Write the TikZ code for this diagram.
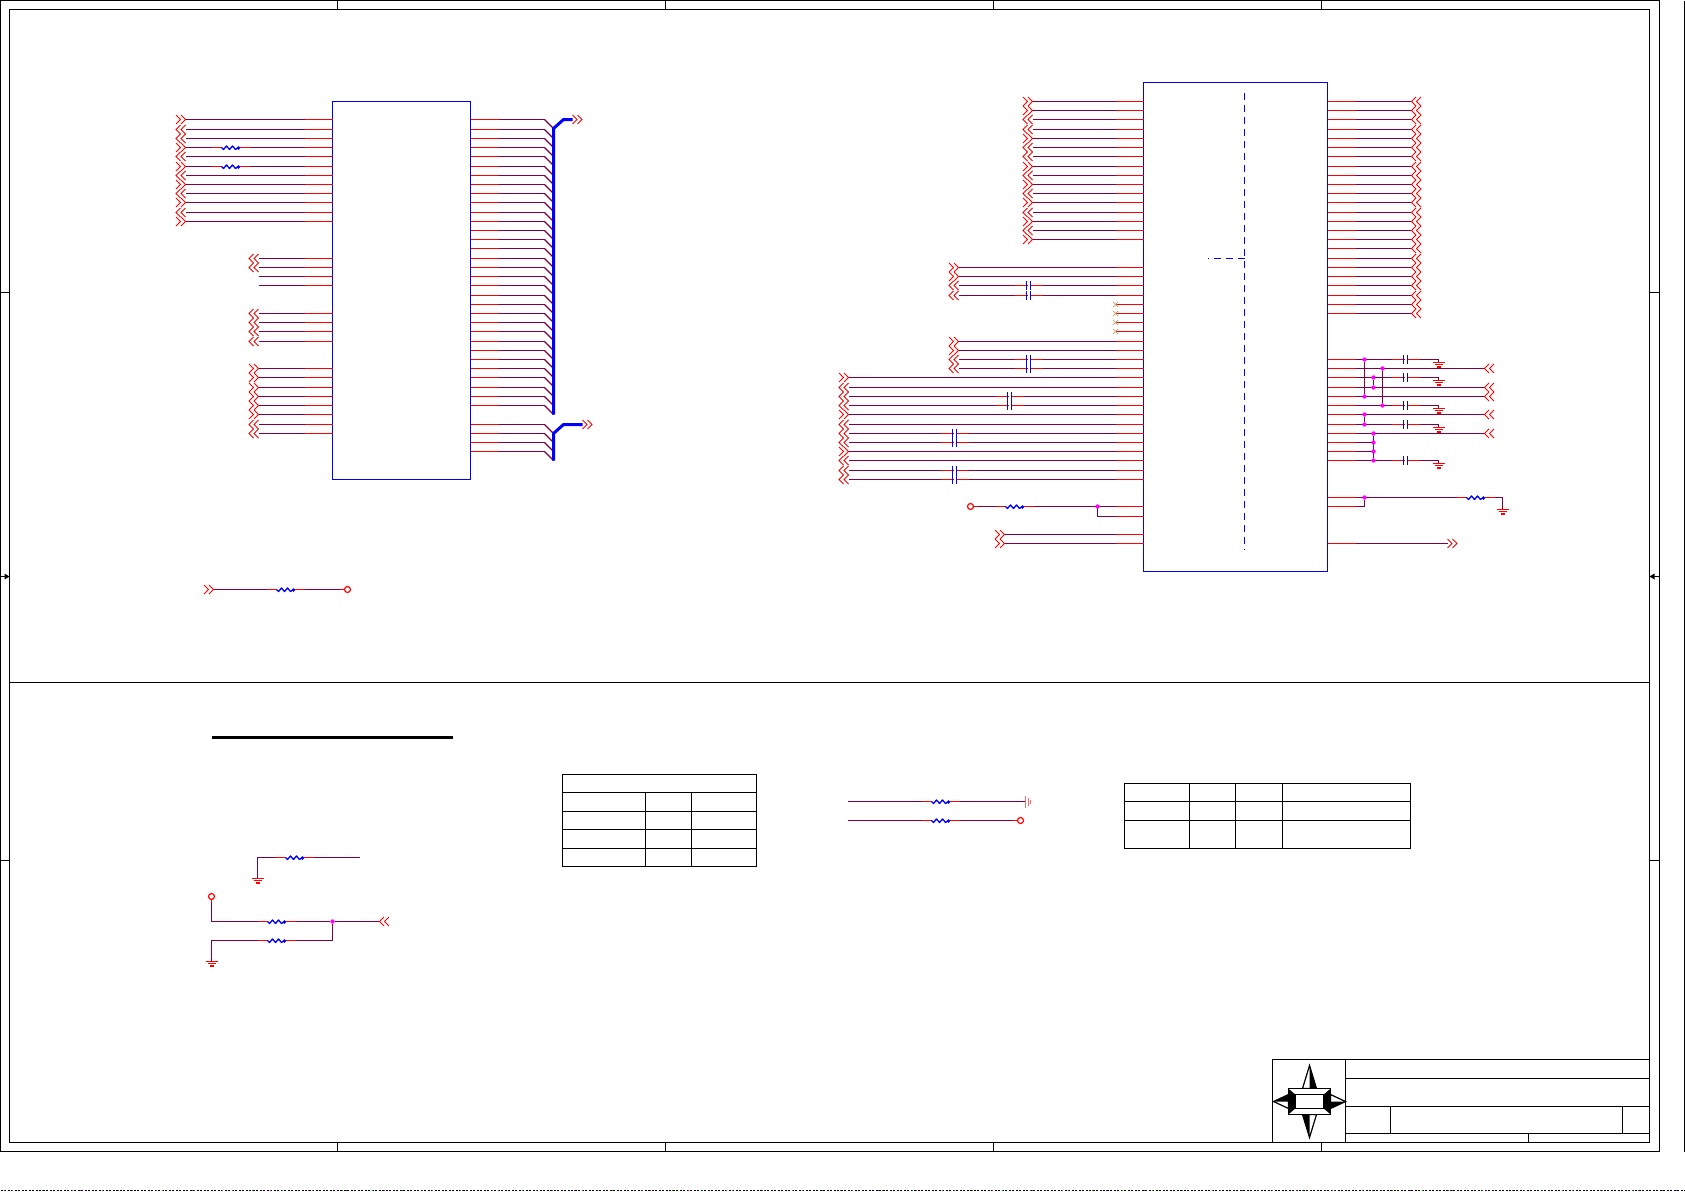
\documentclass[tikz,border=0pt]{standalone}
\usetikzlibrary{calc}
\definecolor{wirep}{HTML}{800040}
\definecolor{ncx}{HTML}{C8A070}
\definecolor{juncm}{HTML}{FF00FF}
\tikzset{
  pw/.style={draw=wirep,line width=1.2pt},
  rw/.style={draw=red,line width=1.2pt},
  chevron/.style={draw=red,line width=1pt,line join=miter},
  icbox/.style={draw=blue,line width=1.2pt,inner sep=0pt,outer sep=0pt,anchor=north west},
  dashline/.style={draw=blue,line width=1.2pt,dash pattern=on 7pt off 5pt},
  busline/.style={draw=blue,line width=3pt,line join=round},
  frameline/.style={draw=black,line width=1.2pt},
  junc/.style={circle,fill=juncm,inner sep=0pt,minimum size=4.4pt},
  pincircle/.style={circle,draw=red,line width=1.2pt,fill=white,inner sep=0pt,minimum size=6pt}
}
% chevron pairs: #1 left bound, #2 y
\newcommand{\chevr}[2]{\draw[chevron,shift={(#1,#2)}] (0,-4.5)--(4.5,0)--(0,4.5) (5,-4.5)--(9.5,0)--(5,4.5);}
\newcommand{\chevl}[2]{\draw[chevron,shift={(#1,#2)}] (4.5,-4.5)--(0,0)--(4.5,4.5) (9.5,-4.5)--(5,0)--(9.5,4.5);}
\newcommand{\chevn}[2]{}
% wire from free end at x to west side of an IC: {ic}{x}{y}{r|l|n}
\newcommand{\wle}[4]{%
  \coordinate (e#1-#3) at (#2,#3);
  \draw[pw] (e#1-#3) -- (#1.west |- e#1-#3);
  \draw[rw] (#1.west |- e#1-#3) -- ++(-28,0);
  \pgfmathsetmacro{\xl}{#2-9.5}
  \csname chev#4\endcsname{\xl}{#3}}
% wire from east side of an IC
\newcommand{\wre}[4]{%
  \coordinate (f#1-#3) at (#2,#3);
  \draw[pw] (#1.east |- f#1-#3) -- (f#1-#3);
  \draw[rw] (#1.east |- f#1-#3) -- ++(28,0);
  \csname chev#4\endcsname{#2}{#3}}
% resistor laid over a wire
\newcommand{\res}[2]{%
  \begin{scope}[shift={(#1,#2)}]
  \draw[white,line width=2pt] (-9,0)--(9,0);
  \draw[rw] (-19,0)--(-9,0) (9,0)--(19,0);
  \draw[blue,line width=1.3pt,line join=round] (-9,0)--(-7,2)--(-4,-1.5)--(-1,2)--(2,-1.5)--(5,2)--(8,0);
  \fill[blue] (8,.5) circle (1.8pt);
  \end{scope}}
% capacitor laid over a wire
\newcommand{\capa}[2]{%
  \begin{scope}[shift={(#1,#2)}]
  \draw[rw] (-14,0)--(-2,0) (2,0)--(14,0);
  \draw[white,line width=2pt] (-1,0)--(1,0);
  \draw[blue,line width=1.9pt] (-2,-4.7)--(-2,4.7) (2,-4.7)--(2,4.7);
  \end{scope}}
% ground: bars from y
\newcommand{\gnd}[2]{%
  \draw[red,line width=1.2pt,shift={(#1,#2)}] (-6,0)--(6,0) (-4,2.3)--(4,2.3) (-2,4.5)--(2,4.5);}
\newcommand{\ncmark}[2]{%
  \draw[ncx,line width=.7pt,shift={(#1,#2)}] (-2.5,-2.5)--(2.5,2.5) (-2.5,2.5)--(2.5,-2.5);}
\begin{document}
\begin{tikzpicture}[x=1pt,y=-1pt]
\useasboundingbox (0,0) rectangle (1685,1191);
\fill[white] (0,0) rectangle (1685,1191);
\begin{scope}[shift={(.5,.5)}]
% sheet frame
\draw[frameline] (0,0) rectangle (1659,1151);
\draw[frameline] (9,9) rectangle (1649,1142);
\draw[frameline] (1684,0) -- (1684,1151);
\draw[frameline] (9,682) -- (1649,682);
\foreach \x in {337,665,993,1321}{
  \draw[frameline] (\x,0)--(\x,9);
  \draw[frameline] (\x,1142)--(\x,1151);}
\foreach \y in {292,860}{
  \draw[frameline] (0,\y)--(9,\y);
  \draw[frameline] (1649,\y)--(1659,\y);}
\draw[frameline] (0,576)--(9,576) (1649,576)--(1659,576);
\fill[black] (9,576)--(4,573)--(4,579)--cycle;
\fill[black] (1649,576)--(1654,573)--(1654,579)--cycle;
\draw[black,line width=1pt,dash pattern=on 2pt off 1.5pt] (0,1190)--(1685,1190);
\draw[magenta!70!blue,line width=1pt,dash pattern=on 1pt off 37pt] (3,1190)--(1685,1190);
\draw[green!60!black,line width=1pt,dash pattern=on 1pt off 29pt] (11,1190)--(1685,1190);

% title block
\draw[frameline] (1272,1059) rectangle (1649,1142);
\draw[frameline] (1345,1059)--(1345,1142);
\draw[frameline] (1345,1078)--(1649,1078) (1345,1106)--(1649,1106) (1345,1133)--(1649,1133);
\draw[frameline] (1390,1106)--(1390,1133) (1622,1106)--(1622,1133) (1528,1133)--(1528,1142);
% compass
\draw[frameline,fill=white] (1309,1065)--(1316,1088)--(1302,1088)--cycle;
\fill[black] (1309,1065)--(1316,1088)--(1309,1088)--cycle;
\draw[frameline,fill=white] (1309,1137)--(1316,1114)--(1302,1114)--cycle;
\fill[black] (1309,1137)--(1302,1114)--(1309,1114)--cycle;
\draw[frameline,fill=white] (1273,1101)--(1288,1094)--(1288,1108)--cycle;
\fill[black] (1273,1101)--(1288,1094)--(1288,1101)--cycle;
\draw[frameline,fill=white] (1345,1101)--(1330,1094)--(1330,1108)--cycle;
\fill[black] (1345,1101)--(1330,1108)--(1330,1101)--cycle;
\draw[frameline,fill=black] (1288,1088) rectangle (1330,1114);
\fill[white] (1288,1088)--(1330,1088)--(1323,1094)--(1295,1094)--cycle;
\fill[white] (1288,1114)--(1330,1114)--(1323,1108)--(1295,1108)--cycle;
\draw[frameline,fill=white] (1295,1094) rectangle (1323,1108);
\draw[frameline] (1288,1088) rectangle (1330,1114);

% ICs
\node[icbox,minimum width=138pt,minimum height=378pt] (U1) at (332,101) {};
\node[icbox,minimum width=184pt,minimum height=489pt] (U2) at (1143,82) {};
\coordinate (dtop) at (1244,92);
\coordinate (dbot) at (1244,549);
\coordinate (dmid) at (1244,258);
\coordinate (dleft) at (1207,258);
\draw[dashline] (dtop)--(dbot);
\draw[dashline] (dmid)--(dleft);

% U1 left pins
\foreach \y/\d in {119/r,129/l,138/l,147/r,156/l,166/r,175/l,184/r,193/l,202/r,212/l,221/r}{\wle{U1}{185}{\y}{\d}}
\res{230}{147}\res{230}{166}
\foreach \y/\d in {258/l,267/l,276/n,285/n,313/l,322/l,331/l,341/l,368/r,377/r,387/r,396/r,405/r,414/r,424/l,433/l}{\wle{U1}{258}{\y}{\d}}

% U1 right pins into buses
\foreach \y [evaluate=\y as \yy using int(\y+9)] in {119,129,138,147,156,166,175,184,193,202,212,221,230,239,248,258,267,276,285,295,304,313,322,331,341,350,359,368,377,387,396,405,424,433,442,451}{
  \wre{U1}{544}{\y}{n}
  \coordinate (bus\y) at (553,\yy);
  \draw[pw] (fU1-\y) -- (bus\y);}
\coordinate (busAend) at (572,119);
\coordinate (busBend) at (582,424);
\draw[busline] (bus405) -- (553,128) -- (563,119) -- (busAend);
\draw[busline] (bus451) -- (553,433) -- (563,424) -- (busBend);
\chevr{572}{119}
\chevr{582}{424}

% U2 left pins
\foreach \y/\d in {101/r,110/r,119/l,129/l,138/r,147/l,156/l,166/r,175/l,184/r,193/l,202/r,212/l,221/r,230/l,239/r}{\wle{U2}{1032}{\y}{\d}}
\foreach \y/\d in {267/r,276/r,285/l,295/l,341/r,350/r,359/l,368/l}{\wle{U2}{958}{\y}{\d}}
\foreach \y/\d in {377/r,387/l,396/l,405/l,414/r,424/l,433/l,442/l,451/r,460/l,470/l,479/l}{\wle{U2}{848}{\y}{\d}}
\foreach \y in {304,313,322,331}{
  \draw[rw] (U2.west |- 0,\y) -- ++(-28,0);
  \ncmark{1115}{\y}}
\foreach \x/\y in {1028/285,1028/295,1028/359,1028/368,1009/396,1009/405,954/433,954/442,954/470,954/479}{\capa{\x}{\y}}

% U2 lower left
\node[pincircle] (tp1) at (970,506) {};
\coordinate (ea) at (1097,506);
\wle{U2}{973}{506}{n}
\draw[rw] (tp1.east) -- ++(4,0);
\res{1014}{506}
\wle{U2}{1097}{516}{n}
\draw[pw] (ea) -- (eU2-516);
\node[junc] at (ea) {};
\wle{U2}{1004}{534}{r}
\wle{U2}{1004}{543}{r}

% U2 right top pins
\foreach \y in {101,110,119,129,138,147,156,166,175,184,193,202,212,221,230,239,248,258,267,276,285,295,304,313}{\wre{U2}{1411}{\y}{l}}

% U2 right lower pins
\foreach \y in {359,377,405,424,460}{
  \wre{U2}{1438}{\y}{n}
  \capa{1405}{\y}
  \coordinate (g\y) at (1438,\y+3);
  \draw[pw] (fU2-\y) -- (g\y);
  \gnd{1438}{\y+3}}
\foreach \y in {368,387,396,414,433}{\wre{U2}{1484}{\y}{l}}
\wre{U2}{1373}{442}{n}
\wre{U2}{1373}{451}{n}
\foreach \x/\a/\b in {1364/359/396,1364/414/424,1373/377/387,1373/433/460,1382/368/405}{
  \node[junc] (ja) at (\x,\a) {};
  \node[junc] (jb) at (\x,\b) {};
  \draw[pw] (ja) -- (jb);}
\node[junc] at (1373,442) {};
\node[junc] at (1373,451) {};

\wre{U2}{1502}{497}{n}
\res{1475}{497}
\coordinate (g497) at (1502,509);
\draw[pw] (fU2-497) -- (g497);
\gnd{1502}{509}
\wre{U2}{1364}{506}{n}
\node[junc] (jr) at (1364,497) {};
\draw[pw] (fU2-506) -- (jr);
\wre{U2}{1447}{543}{r}

% lower-left of top area
\coordinate (sa) at (213,589);
\node[pincircle] (tp2) at (347,589) {};
\draw[pw] (sa) -- (tp2.west);
\draw[rw] (tp2.west) -- ++(-4,0);
\res{285}{589}
\chevr{203.5}{589}

% note underline
\draw[black,line width=3pt] (211,737)--(452,737);

% bottom left circuits
\coordinate (ba) at (257,878);
\coordinate (bb) at (257,857);
\coordinate (bc) at (359,857);
\draw[pw] (ba)--(bb)--(bc);
\res{294}{857}
\gnd{257}{878}
\node[pincircle] (tp3) at (211,896) {};
\coordinate (bd) at (211,921);
\node[junc] (be) at (332,921) {};
\coordinate (bf) at (379,921);
\draw[pw] (tp3.south)--(bd)--(be)--(bf);
\draw[rw] (tp3.south) -- ++(0,3);
\res{276}{921}
\chevl{379}{921}
\coordinate (bg) at (211,961);
\coordinate (bh) at (211,940);
\coordinate (bi) at (332,940);
\draw[pw] (bg)--(bh)--(bi)--(be);
\res{276}{940}
\gnd{211}{961}

% table 1
\draw[frameline] (562,774) rectangle (756,866);
\draw[frameline] (562,792)--(756,792) (562,811)--(756,811) (562,829)--(756,829) (562,848)--(756,848);
\draw[frameline] (645,792)--(645,866) (691,792)--(691,866);

% centre resistors
\coordinate (ca) at (847,801);
\coordinate (cb) at (1025,801);
\draw[pw] (ca)--(cb);
\res{940}{801}
\draw[red!60,line width=1pt] (1025,795)--(1025,807) (1027.5,797)--(1027.5,805) (1030,799)--(1030,803);
\coordinate (cc) at (847,820);
\node[pincircle] (tp4) at (1020,820) {};
\draw[pw] (cc)--(tp4.west);
\draw[rw] (tp4.west) -- ++(-4,0);
\res{940}{820}

% table 2
\draw[frameline] (1124,783) rectangle (1410,848);
\draw[frameline] (1124,801)--(1410,801) (1124,820)--(1410,820);
\draw[frameline] (1189,783)--(1189,848) (1235,783)--(1235,848) (1282,783)--(1282,848);
\end{scope}
\end{tikzpicture}
\end{document}
